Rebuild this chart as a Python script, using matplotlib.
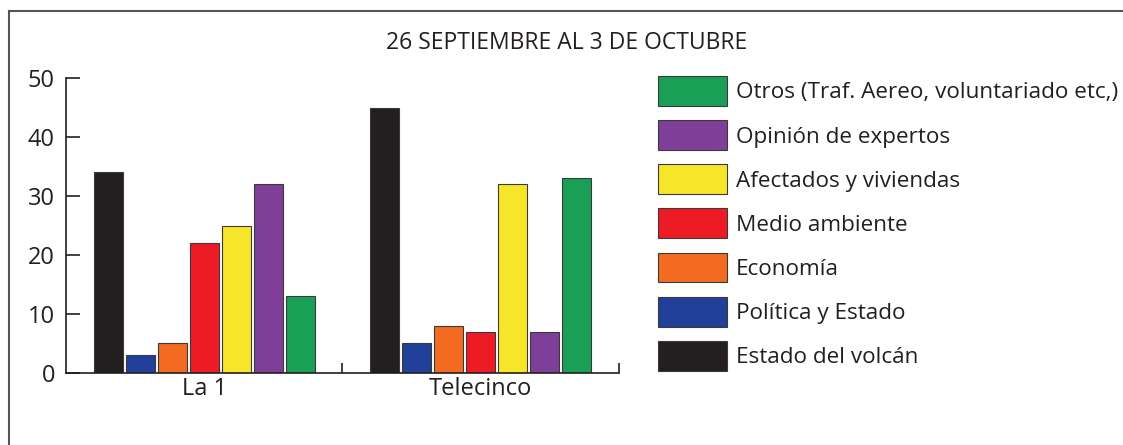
import matplotlib.pyplot as plt
import numpy as np
from matplotlib.lines import Line2D

plt.rcParams['font.family'] = ['Open Sans', 'DejaVu Sans']

# Datos
cadenas = ['La 1', 'Telecinco']
temas = ['Estado del volcán', 'Política y Estado', 'Economía', 'Medio ambiente',
         'Afectados y viviendas', 'Opinión de expertos',
         'Otros (Traf. Aereo, voluntariado etc,)']
estado_volcan = [34, 45]
politica = [3, 5]
economia = [5, 8]
medio_ambiente = [22, 7]
afectados = [25, 32]
opinion = [32, 7]
otros = [13, 33]
colores = ['#231f20', '#21409a', '#f26b21', '#ed1c24', '#f7e52a', '#7f3f98', '#1a9f57']

series = [estado_volcan, politica, economia, medio_ambiente, afectados, opinion, otros]
texto = '#231f20'

fig = plt.figure(figsize=(11.23, 4.45), dpi=100)
ax = fig.add_axes([0.0588, 0.1618, 0.4923, 0.6629])

x = np.arange(len(cadenas))
paso = 0.1157
ancho = 0.105
for i, (vals, col) in enumerate(zip(series, colores)):
    ax.bar(x + (i - 3) * paso, vals, ancho, color=col, edgecolor='#3a3a3a',
           linewidth=0.8, label=temas[i])

ax.set_xlim(-0.5, 1.5)
ax.set_ylim(0, 50)
ax.set_yticks([0, 10, 20, 30, 40, 50])
ax.set_xticks(x)
ax.set_xticklabels(cadenas)
ax.set_xticks([0.5, 1.5], minor=True)
ax.tick_params(axis='y', direction='in', length=10, width=1.2, color=texto,
               labelsize=17, labelcolor=texto, pad=8)
ax.tick_params(axis='x', which='major', length=0, labelsize=17, labelcolor=texto, pad=3)
ax.tick_params(axis='x', which='minor', direction='in', length=7, width=1.2, color=texto)
for s in ['top', 'right']:
    ax.spines[s].set_visible(False)
for s in ['left', 'bottom']:
    ax.spines[s].set_color(texto)
    ax.spines[s].set_linewidth(1.2)

h, l = ax.get_legend_handles_labels()
leg = fig.legend(h[::-1], l[::-1], loc='upper left', bbox_to_anchor=(0.586, 0.829),
                 frameon=False, fontsize=16.2, handlelength=3.05, handleheight=1.67,
                 handletextpad=0.4, labelspacing=0.63, borderaxespad=0, borderpad=0)
for t in leg.get_texts():
    t.set_color(texto)

fig.text(0.505, 0.903, '26 SEPTIEMBRE AL 3 DE OCTUBRE', ha='center', va='center',
         fontsize=16.5, color=texto)

# marco
fig.add_artist(Line2D([0.008, 0.008], [0.0, 0.975], transform=fig.transFigure,
                      color='#555555', linewidth=1.5))
fig.add_artist(Line2D([0.008, 1.0], [0.975, 0.975], transform=fig.transFigure,
                      color='#555555', linewidth=1.5))

fig.savefig('out.png', dpi=100)
